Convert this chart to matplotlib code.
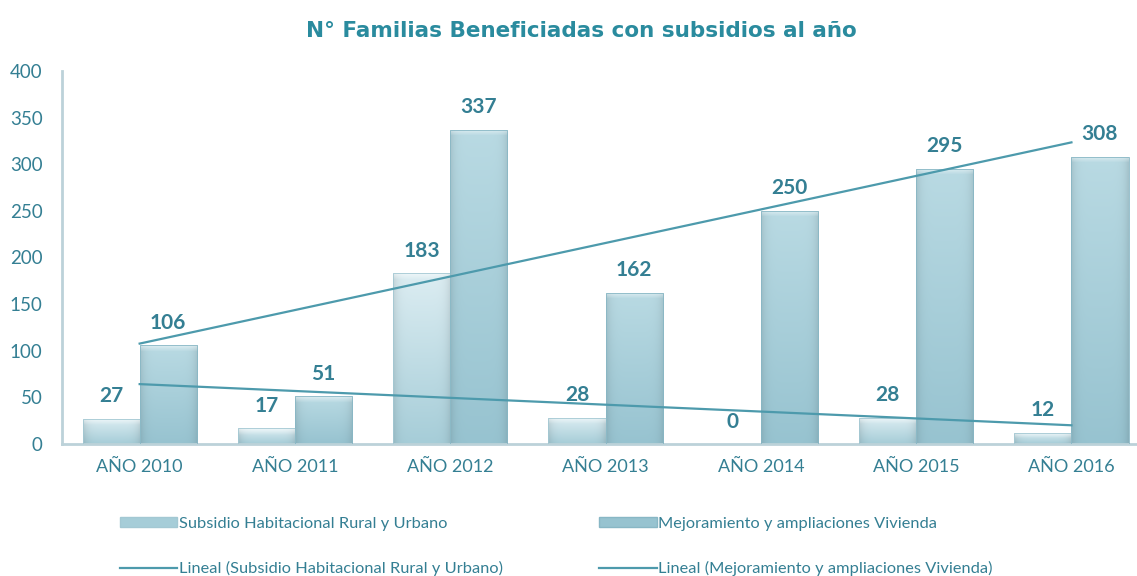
import numpy as np
import matplotlib
matplotlib.use("Agg")
import matplotlib.pyplot as plt
from matplotlib.colors import to_rgb
from matplotlib.patches import Patch
from matplotlib.lines import Line2D

# ---- data ----
categories = ["AÑO 2010", "AÑO 2011", "AÑO 2012", "AÑO 2013", "AÑO 2014", "AÑO 2015", "AÑO 2016"]
subsidio = [27, 17, 183, 28, 0, 28, 12]
mejoramiento = [106, 51, 337, 162, 250, 295, 308]
yticks = [0, 50, 100, 150, 200, 250, 300, 350, 400]

series_names = ["Subsidio Habitacional Rural y Urbano", "Mejoramiento y ampliaciones Vivienda"]
title = "N° Familias Beneficiadas con subsidios al año"

# ---- style ----
TEXT = "#347f93"
TITLE = "#2a8b9e"
TREND = "#4d9aac"
SPINE = "#bcd2d9"
SUB_TOP, SUB_BOT = "#dcedf2", "#a6cdd8"
MEJ_TOP, MEJ_BOT = "#b9dae3", "#97c3d0"

plt.rcParams["font.family"] = ["Lato", "DejaVu Sans"]

W, H, DPI = 1137, 576, 100
fig = plt.figure(figsize=(W / DPI, H / DPI), dpi=DPI)
fig.patch.set_facecolor("white")

left_px, axis_px, top_px, cat_px = 62, 444, 71, 155.3
ax = fig.add_axes([left_px / W, 1 - axis_px / H, 7 * cat_px / W, (axis_px - top_px) / H])

x = np.arange(len(categories))
gap = 0.72
bw = 1.0 / (2 + gap)

bars_sub = ax.bar(x - bw / 2, subsidio, bw, color="none", edgecolor="#a3c8d3", linewidth=0.6, zorder=3)
bars_mej = ax.bar(x + bw / 2, mejoramiento, bw, color="none", edgecolor="#88b7c5", linewidth=0.6, zorder=3)

px_per_unit = (axis_px - top_px) / 400.0


def shade(patch, top, bot):
    x0, w, h = patch.get_x(), patch.get_width(), patch.get_height()
    if h <= 0:
        return
    rows = max(int(h * px_per_unit), 2)
    cols = 40
    t = np.linspace(1, 0, rows)[:, None]
    u = np.linspace(-1, 1, cols)[None, :]
    top_c, bot_c = np.array(to_rgb(top)), np.array(to_rgb(bot))
    img = bot_c + (top_c - bot_c) * t[..., None]
    edge = 1 - 0.10 * np.abs(u) ** 6
    img = img * edge[..., None]
    # bevelled top edge
    hl = min(6, rows // 2)
    for i in range(hl):
        k = 0.5 * (1 - i / hl)
        img[i] = img[i] + (1 - img[i]) * k
    img = np.clip(img, 0, 1)
    im = ax.imshow(img, extent=[x0, x0 + w, 0, h], aspect="auto", zorder=2,
                   interpolation="bilinear")
    im.set_clip_path(patch)


for p in bars_sub:
    shade(p, SUB_TOP, SUB_BOT)
for p in bars_mej:
    shade(p, MEJ_TOP, MEJ_BOT)

# linear trend lines
for vals in (subsidio, mejoramiento):
    k, b = np.polyfit(x, vals, 1)
    ax.plot([x[0], x[-1]], [k * x[0] + b, k * x[-1] + b], color=TREND, lw=1.6, zorder=4)

# value labels
for bars, vals in ((bars_sub, subsidio), (bars_mej, mejoramiento)):
    for p, v in zip(bars, vals):
        ax.annotate(f"{v}", (p.get_x() + p.get_width() / 2, v), xytext=(0, 9),
                    textcoords="offset points", ha="center", va="bottom",
                    fontsize=15, fontweight="bold", color=TEXT, zorder=5)

ax.set_xlim(-0.5, len(categories) - 0.5)
ax.set_ylim(0, 400)
ax.set_yticks(yticks)
ax.set_xticks(x)
ax.set_xticklabels(categories)
ax.tick_params(axis="both", length=0, colors=TEXT)
ax.tick_params(axis="y", pad=14, labelsize=13.5)
ax.tick_params(axis="x", pad=11, labelsize=13)
for s in ("top", "right"):
    ax.spines[s].set_visible(False)
for s in ("left", "bottom"):
    ax.spines[s].set_color(SPINE)
    ax.spines[s].set_linewidth(2)

fig.text(581 / W, 1 - 31 / H, title, ha="center", va="center", fontsize=15.5,
         fontweight="bold", color=TITLE, family=["DejaVu Sans"])

handles = [
    Patch(facecolor=SUB_BOT, edgecolor="#a3c8d3"),
    Line2D([], [], color=TREND, lw=1.6),
    Patch(facecolor=MEJ_BOT, edgecolor="#88b7c5"),
    Line2D([], [], color=TREND, lw=1.6),
]
labels = [series_names[0], f"Lineal ({series_names[0]})",
          series_names[1], f"Lineal ({series_names[1]})"]
leg = fig.legend(handles, labels, ncol=2, loc="upper left",
                 bbox_to_anchor=(105 / W, 1 - 502 / H), frameon=False,
                 fontsize=11.8, handlelength=3.5, handleheight=0.6, handletextpad=0.1,
                 columnspacing=5.9, labelspacing=1.85)
for t in leg.get_texts():
    t.set_color(TEXT)

fig.savefig("out.png", dpi=DPI)
